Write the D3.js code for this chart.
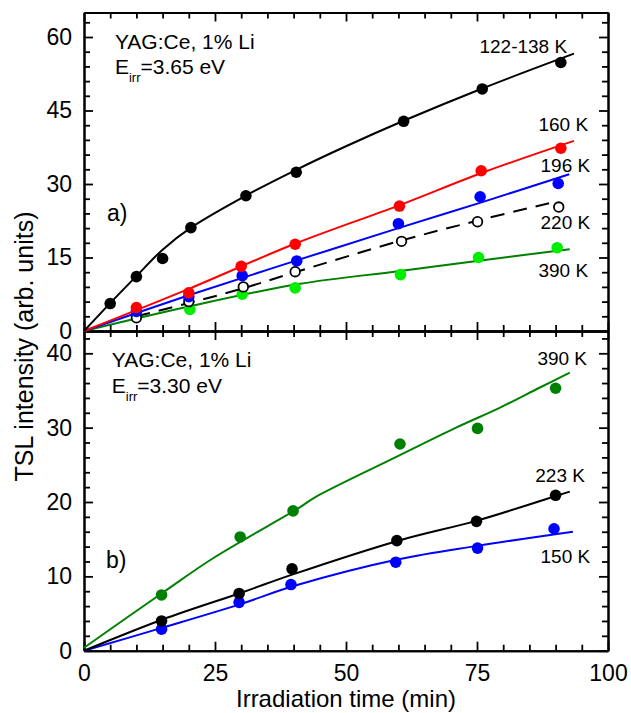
<!DOCTYPE html>
<html>
<head>
<meta charset="utf-8">
<script src="https://cdn.jsdelivr.net/npm/d3@7"></script>
<style>
    body { margin: 0; background: #fff; }
    text { font-family: Arial, "Liberation Sans", sans-serif; fill: #000; }
</style>
</head>
<body>
<div id="chart"></div>
<script>

// ---------------- panel a) E_irr = 3.65 eV ----------------
const a122Time = [5, 10, 15, 20.4, 30.9, 40.5, 61, 76, 91];
const a122Val  = [5.6, 11.1, 14.8, 21.1, 27.6, 32.4, 42.8, 49.4, 54.8];
const a122FitTime = [0, 5, 10, 15, 20.4, 31, 40.5, 50, 61, 76, 93.5];
const a122FitVal  = [0, 5.7, 11.2, 16.6, 21.1, 27.7, 32.9, 37.7, 42.9, 49.5, 56.6];

const a160Time = [10, 20, 30, 40.3, 60.2, 75.8, 91];
const a160Val  = [4.8, 7.8, 13.2, 17.7, 25.5, 32.7, 37.3];
const a160FitTime = [0, 20, 40, 60, 76, 93.5];
const a160FitVal  = [0, 8.6, 17.7, 25.6, 32.3, 38.8];

const a196Time = [10, 20, 30.2, 40.6, 60, 75.6, 90.5];
const a196Val  = [4.0, 7.0, 11.3, 14.3, 21.9, 27.4, 30.1];
const a196FitTime = [0, 20, 40, 60, 76, 92.6];
const a196FitVal  = [0, 7.3, 14.2, 21.0, 26.3, 32.0];

const a220Time = [10, 20, 30.4, 40.3, 60.6, 75.1, 90.6];
const a220Val  = [2.7, 6.0, 9.0, 12.1, 18.3, 22.3, 25.3];
const a220FitTime = [10, 20, 30, 40, 60, 75, 89.2];
const a220FitVal  = [3.0, 5.7, 8.6, 11.9, 18.3, 22.5, 26.2];

const a390Time = [20.2, 30.2, 40.3, 60.4, 75.3, 90.3];
const a390Val  = [4.4, 7.5, 8.8, 11.5, 15.0, 17.0];
const a390FitTime = [0, 20, 41, 60, 75, 92.7];
const a390FitVal  = [0, 5.0, 9.6, 12.2, 14.3, 16.7];

// ---------------- panel b) E_irr = 3.30 eV ----------------
const b390Time = [14.8, 29.8, 39.9, 60.3, 75.1, 90.0];
const b390Val  = [7.5, 15.3, 18.8, 27.8, 29.9, 35.3];
const b390FitTime = [0, 15, 25, 41, 44, 60, 71, 79.4, 87, 92.7];
const b390FitVal  = [0.4, 7.8, 12.6, 19.2, 20.6, 26.2, 30.0, 32.7, 35.4, 37.4];

const b223Time = [14.8, 29.6, 39.7, 59.7, 74.9, 90];
const b223Val  = [4.0, 7.7, 11.0, 14.8, 17.4, 20.9];
const b223FitTime = [0, 15, 30, 40, 60, 75, 90, 92.7];
const b223FitVal  = [0, 4.2, 7.8, 10.3, 14.8, 17.5, 20.8, 21.4];

const b150Time = [14.8, 29.6, 39.5, 59.5, 75.1, 89.7];
const b150Val  = [2.9, 6.5, 8.9, 11.9, 13.8, 16.4];
const b150FitTime = [0, 15, 30, 40, 60, 75, 93.3];
const b150FitVal  = [0, 3.1, 6.3, 8.7, 12.3, 14.1, 16.0];

// axis ticks
const xTicks = [0, 25, 50, 75, 100];
const xMinor = [5, 10, 15, 20, 30, 35, 40, 45, 55, 60, 65, 70, 80, 85, 90, 95];
const yTicksA = [0, 15, 30, 45, 60];
const yTicksB = [0, 10, 20, 30, 40];

// curve labels, anchored in data units (right aligned)
const labelsA = [["122-138 K", 92.2, 56.7], ["160 K", 96.2, 40.8], ["196 K", 96.6, 32.4],
                 ["220 K", 96.6, 20.8], ["390 K", 96.2, 11.0]];
const labelsB = [["390 K", 96.0, 38.4], ["223 K", 95.6, 22.7], ["150 K", 96.6, 11.8]];

const W = 631, H = 713;
const svg = d3.select("#chart").append("svg")
    .attr("width", W)
    .attr("height", H);

svg.append("rect").attr("width", W).attr("height", H).attr("fill", "#fff");

// shared x, two stacked y scales
const x = d3.scaleLinear().domain([0, 100]).range([84, 608]);
const yA = d3.scaleLinear().domain([0, 65]).range([331, 12.5]);
const yB = d3.scaleLinear().domain([0, 43]).range([650.7, 331]);

const zip = (t, v) => t.map((d, i) => [d, v[i]]);

// helper: draw an axis and restyle it
function drawAxis(axis, tx, ty, withLabels, size) {
    let g = svg.append("g")
        .attr("transform", `translate(${tx},${ty})`)
        .call(axis);
    g.attr("font-family", null).attr("font-size", size || 23);
    g.selectAll("path.domain").attr("stroke", "#000").attr("stroke-width", 2);
    g.selectAll(".tick line").attr("stroke", "#000").attr("stroke-width", 1.8);
    if (!withLabels) g.selectAll(".tick text").remove();
    return g;
}

function drawFrame(y, yTicks, yMinor, yTop, yBottom, bottomLabels) {
    // left
    drawAxis(d3.axisLeft(y).tickValues(yTicks).tickSize(-9).tickSizeOuter(0).tickPadding(12), 84, 0, true);
    drawAxis(d3.axisLeft(y).tickValues(yMinor).tickSize(-6).tickSizeOuter(0).tickFormat(""), 84, 0, false);
    // right
    drawAxis(d3.axisRight(y).tickValues(yTicks).tickSize(-9).tickSizeOuter(0), 608, 0, false);
    drawAxis(d3.axisRight(y).tickValues(yMinor).tickSize(-6).tickSizeOuter(0), 608, 0, false);
    // top
    drawAxis(d3.axisTop(x).tickValues(xTicks).tickSize(-9).tickSizeOuter(0), 0, yTop, false);
    drawAxis(d3.axisTop(x).tickValues(xMinor).tickSize(-6).tickSizeOuter(0), 0, yTop, false);
    // bottom
    drawAxis(d3.axisBottom(x).tickValues(xTicks).tickSize(-9).tickSizeOuter(0).tickPadding(14), 0, yBottom, bottomLabels);
    drawAxis(d3.axisBottom(x).tickValues(xMinor).tickSize(-6).tickSizeOuter(0), 0, yBottom, false);
}

drawFrame(yA, yTicksA, d3.range(3, 65, 3).filter(d => d % 15 !== 0), 12.5, 331, false);
drawFrame(yB, yTicksB, d3.range(2, 43, 2).filter(d => d % 10 !== 0), 331, 650.7, true);

// curves and points
function drawSeries(y, fitT, fitV, t, v, lineColor, ptColor, dashed, open) {
    svg.append("path")
        .datum(zip(fitT, fitV))
        .attr("fill", "none")
        .attr("stroke", lineColor)
        .attr("stroke-width", 2)
        .attr("stroke-dasharray", dashed ? "14,9" : null)
        .attr("d", d3.line().x(d => x(d[0])).y(d => y(d[1])).curve(d3.curveCatmullRom.alpha(0.5)));

    svg.append("g").selectAll("circle")
        .data(zip(t, v))
        .enter()
        .append("circle")
        .attr("cx", d => x(d[0]))
        .attr("cy", d => y(d[1]))
        .attr("r", open ? 4.8 : 5.8)
        .attr("fill", open ? "#fff" : ptColor)
        .attr("stroke", open ? "#000" : "none")
        .attr("stroke-width", open ? 1.8 : 0);
}

drawSeries(yA, a390FitTime, a390FitVal, a390Time, a390Val, "#008000", "#00ee00", false, false);
drawSeries(yA, a220FitTime, a220FitVal, a220Time, a220Val, "#000", "#000", true, true);
drawSeries(yA, a196FitTime, a196FitVal, a196Time, a196Val, "#0000ff", "#0000ff", false, false);
drawSeries(yA, a160FitTime, a160FitVal, a160Time, a160Val, "#ff0000", "#ff0000", false, false);
drawSeries(yA, a122FitTime, a122FitVal, a122Time, a122Val, "#000", "#000", false, false);

drawSeries(yB, b150FitTime, b150FitVal, b150Time, b150Val, "#0000ff", "#0000ff", false, false);
drawSeries(yB, b223FitTime, b223FitVal, b223Time, b223Val, "#000", "#000", false, false);
drawSeries(yB, b390FitTime, b390FitVal, b390Time, b390Val, "#008000", "#008000", false, false);

// curve labels
function drawLabels(y, labels) {
    svg.append("g").selectAll("text")
        .data(labels)
        .enter()
        .append("text")
        .attr("x", d => x(d[1]))
        .attr("y", d => y(d[2]))
        .attr("text-anchor", "end")
        .attr("font-size", 19)
        .text(d => d[0]);
}
drawLabels(yA, labelsA);
drawLabels(yB, labelsB);

// sample / excitation text
function drawInfo(y, t, v1, v2, energy, panel, pt, pv) {
    svg.append("text")
        .attr("x", x(t)).attr("y", y(v1))
        .attr("font-size", 21)
        .text("YAG:Ce, 1% Li");
    let e = svg.append("text")
        .attr("x", x(t)).attr("y", y(v2))
        .attr("font-size", 21);
    e.append("tspan").text("E");
    e.append("tspan").attr("font-size", 13).attr("dy", 8).text("irr");
    e.append("tspan").attr("dy", -8).text("=" + energy + " eV");

    svg.append("text")
        .attr("x", x(pt)).attr("y", y(pv))
        .attr("font-size", 23)
        .text(panel);
}
drawInfo(yA, 5.9, 57.5, 52.4, "3.65", "a)", 4.4, 22.4);
drawInfo(yB, 5.3, 38.1, 34.6, "3.30", "b)", 4.2, 11.1);

// axis titles
svg.append("text")
    .attr("x", (x.range()[0] + x.range()[1]) / 2)
    .attr("y", 707)
    .attr("text-anchor", "middle")
    .attr("font-size", 24)
    .text("Irradiation time (min)");

svg.append("text")
    .attr("transform", "translate(33,346.5) rotate(-90)")
    .attr("text-anchor", "middle")
    .attr("font-size", 25)
    .text("TSL intensity (arb. units)");

</script>
</body>
</html>
